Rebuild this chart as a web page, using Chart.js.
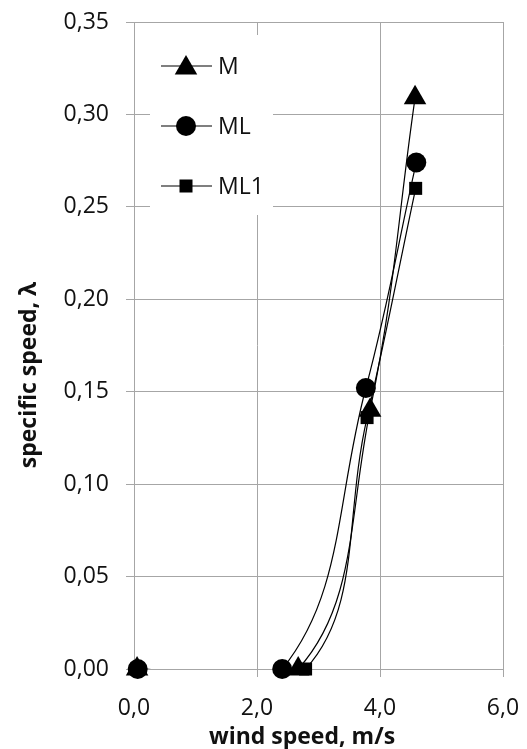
<!DOCTYPE html>
<html>
<head>
<meta charset="utf-8">
<script src="https://cdn.jsdelivr.net/npm/chart.js@4/dist/chart.umd.min.js"></script>
<style>
  html, body { margin: 0; padding: 0; background: #fff; }
  #wrap { width: 527px; height: 749px; }
</style>
</head>
<body>
<div id="wrap"><canvas id="Chart" width="527" height="749"></canvas></div>
<script>
const seriesNames = ['M', 'ML', 'ML1'];
const seriesStyles = ['triangle', 'circle', 'rect'];
const seriesRadius = [13, 10, 9.2];

const speedM = [0.05, 2.67, 3.84, 4.57];
const lambdaM = [0, 0, 0.140, 0.309];
const speedML = [0.06, 2.41, 3.77, 4.59];
const lambdaML = [0, 0, 0.152, 0.274];
const speedML1 = [0.05, 2.79, 3.79, 4.58];
const lambdaML1 = [0, 0, 0.136, 0.260];

const xTicks = [0, 2, 4, 6];
const yTicks = [0, 0.05, 0.10, 0.15, 0.20, 0.25, 0.30, 0.35];

const xTitle = 'wind speed, m/s';
const yTitle = 'specific speed, λ';

const gridColor = '#a6a6a6';
const textColor = '#111';

function points(xs, ys) {
    return xs.map((x, i) => ({ x: x, y: ys[i] }));
}

const allX = [speedM, speedML, speedML1];
const allY = [lambdaM, lambdaML, lambdaML1];

// smoothed lines are clipped to the plot (like Excel), markers are not
const lineSets = seriesNames.map((name, i) => ({
    label: name,
    data: points(allX[i], allY[i]),
    showLine: true,
    borderColor: '#000',
    borderWidth: 1.2,
    pointRadius: 0,
    tension: 0.4
}));
const markerSets = seriesNames.map((name, i) => ({
    label: name,
    data: points(allX[i], allY[i]),
    showLine: false,
    backgroundColor: '#000',
    pointStyle: seriesStyles[i],
    pointRadius: seriesRadius[i],
    pointHoverRadius: seriesRadius[i],
    pointBorderWidth: 0,
    clip: false
}));

// legend box inside the plot and the axis titles
const extras = {
    id: 'extras',
    afterDraw(chart) {
        const ctx = chart.ctx;
        const area = chart.chartArea;
        ctx.save();
        ctx.fillStyle = '#fff';
        ctx.fillRect(area.left + 16, area.top + 13, 123, 180);

        ctx.font = '23px "Open Sans"';
        ctx.textBaseline = 'middle';
        ctx.textAlign = 'left';
        seriesNames.forEach((name, i) => {
            const y = area.top + 44 + i * 60;
            const x0 = area.left + 27;
            ctx.strokeStyle = '#000';
            ctx.lineWidth = 1.2;
            ctx.beginPath();
            ctx.moveTo(x0, y);
            ctx.lineTo(x0 + 51, y);
            ctx.stroke();
            ctx.fillStyle = '#000';
            Chart.helpers.drawPoint(ctx, {
                pointStyle: seriesStyles[i],
                radius: seriesRadius[i],
                rotation: 0,
                borderWidth: 0
            }, x0 + 25, y + (i === 0 ? 2 : 0));
            ctx.fillStyle = textColor;
            ctx.fillText(name, x0 + 57, y + 1);
        });

        ctx.fillStyle = textColor;
        ctx.font = 'bold 23px "Open Sans"';
        ctx.textAlign = 'center';
        ctx.textBaseline = 'alphabetic';
        ctx.fillText(xTitle, 302, 744);

        ctx.translate(36, 375);
        ctx.rotate(-Math.PI / 2);
        ctx.fillText(yTitle, 0, 0);
        ctx.restore();
    }
};

const ctx = document.getElementById('Chart').getContext('2d');
const chart = new Chart(ctx, {
    type: 'scatter',
    data: { datasets: lineSets.concat(markerSets) },
    options: {
        responsive: false,
        animation: false,
        elements: { line: { capBezierPoints: false } },
        layout: { padding: { top: 22, right: 24, left: 0, bottom: 0 } },
        plugins: {
            legend: { display: false },
            tooltip: { enabled: false }
        },
        scales: {
            x: {
                min: 0,
                max: 6,
                afterBuildTicks: (scale) => { scale.ticks = xTicks.map(v => ({ value: v })); },
                afterFit: (scale) => {
                    scale.height = 80;
                    scale.paddingLeft = 0;
                    scale.paddingRight = 0;
                },
                grid: { color: gridColor, tickLength: 8, lineWidth: 1 },
                border: { color: gridColor },
                ticks: {
                    color: textColor,
                    font: { family: 'Open Sans', size: 23 },
                    padding: 18,
                    maxRotation: 0,
                    callback: (v) => Number(v).toFixed(1).replace('.', ',')
                }
            },
            y: {
                min: 0,
                max: 0.35,
                afterBuildTicks: (scale) => { scale.ticks = yTicks.map(v => ({ value: v })); },
                afterFit: (scale) => {
                    scale.width = 134;
                    scale.paddingTop = 0;
                    scale.paddingBottom = 0;
                },
                grid: { color: gridColor, tickLength: 8, lineWidth: 1 },
                border: { color: gridColor },
                ticks: {
                    color: textColor,
                    font: { family: 'Open Sans', size: 23 },
                    padding: 17,
                    callback: (v) => Number(v).toFixed(2).replace('.', ',')
                }
            }
        }
    },
    plugins: [extras]
});
</script>
</body>
</html>
